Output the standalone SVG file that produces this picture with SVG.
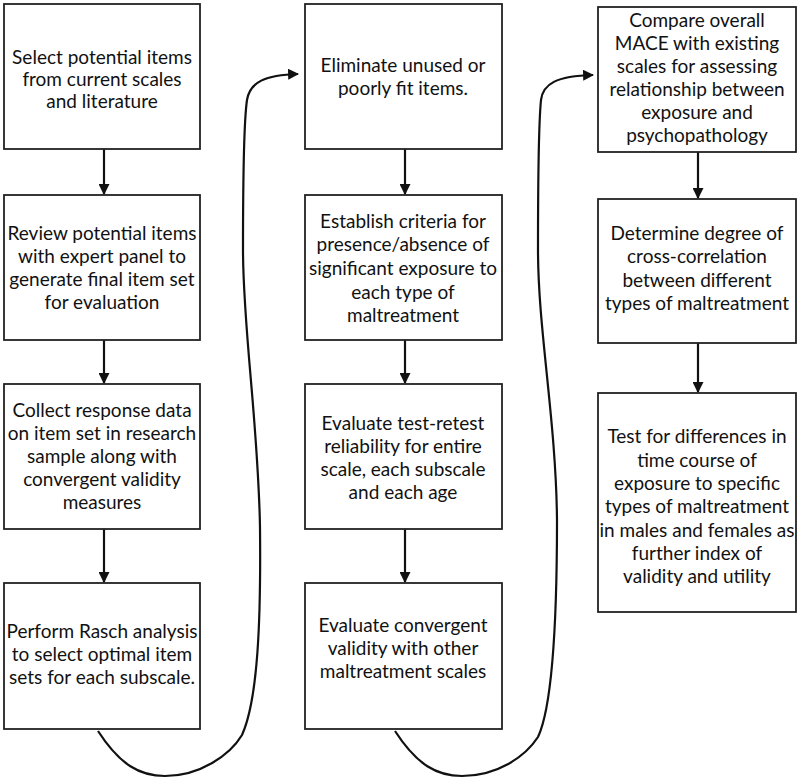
<svg xmlns="http://www.w3.org/2000/svg" width="800" height="781" viewBox="0 0 800 781">
<defs>
<style>
.box{fill:#fff;stroke:#222;stroke-width:1.8}
.t{font-family:Lato,"Open Sans","Liberation Sans",sans-serif;font-size:19px;fill:#111;text-anchor:middle}
.c{fill:none;stroke:#111;stroke-width:2.2}
</style>
<marker id="ah" viewBox="0 0 10 10" refX="9" refY="5" markerWidth="5" markerHeight="5" orient="auto" markerUnits="strokeWidth">
<path d="M0,0 L10,5 L0,10 z" fill="#111"/>
</marker>
</defs>
<rect width="800" height="781" fill="#fff"/>
<g id="connectors">
<line class="c" x1="104" y1="149" x2="104" y2="194" marker-end="url(#ah)"/>
<line class="c" x1="104" y1="340" x2="104" y2="383" marker-end="url(#ah)"/>
<line class="c" x1="104" y1="529" x2="104" y2="582" marker-end="url(#ah)"/>
<line class="c" x1="405" y1="149" x2="405" y2="194" marker-end="url(#ah)"/>
<line class="c" x1="405" y1="340" x2="405" y2="383" marker-end="url(#ah)"/>
<line class="c" x1="405" y1="529" x2="405" y2="582" marker-end="url(#ah)"/>
<line class="c" x1="698" y1="152" x2="698" y2="198" marker-end="url(#ah)"/>
<line class="c" x1="698" y1="343" x2="698" y2="392" marker-end="url(#ah)"/>
<path class="c" d="M98,731 C120,765 140,776 165,776 C200,776 230,755 242,735 C258,700 261,620 260,527 C258,420 243,330 243,250 C243,180 244,120 247,100 C250,82 265,75 298,74" marker-end="url(#ah)"/>
<path class="c" d="M395,731 C417,765 437,776 462,776 C497,776 525,757 538,737 C553,705 557,620 557,520 C556,420 538,330 538,250 C538,180 539,120 541,100 C543,84 556,76 593,75" marker-end="url(#ah)"/>
</g>
<g id="n1"><rect class="box" x="4" y="4" width="196" height="145"/>
<text class="t"><tspan x="102" y="64">Select potential items</tspan><tspan x="102" y="86">from current scales</tspan><tspan x="102" y="108">and literature</tspan></text></g>
<g id="n2"><rect class="box" x="4" y="195" width="196" height="145"/>
<text class="t"><tspan x="102" y="240">Review potential items</tspan><tspan x="102" y="263">with expert panel to</tspan><tspan x="102" y="286">generate final item set</tspan><tspan x="102" y="309">for evaluation</tspan></text></g>
<g id="n3"><rect class="box" x="4" y="384" width="196" height="145"/>
<text class="t"><tspan x="102" y="417">Collect response data</tspan><tspan x="102" y="440">on item set in research</tspan><tspan x="102" y="463">sample along with</tspan><tspan x="102" y="486">convergent validity</tspan><tspan x="102" y="509">measures</tspan></text></g>
<g id="n4"><rect class="box" x="4" y="583" width="196" height="146"/>
<text class="t"><tspan x="102" y="638">Perform Rasch analysis</tspan><tspan x="102" y="661">to select optimal item</tspan><tspan x="102" y="684">sets for each subscale.</tspan></text></g>
<g id="n5"><rect class="box" x="305" y="4" width="197" height="145"/>
<text class="t"><tspan x="403" y="72">Eliminate unused or</tspan><tspan x="403" y="95">poorly fit items.</tspan></text></g>
<g id="n6"><rect class="box" x="305" y="195" width="197" height="145"/>
<text class="t"><tspan x="403" y="228">Establish criteria for</tspan><tspan x="403" y="251">presence/absence of</tspan><tspan x="403" y="275">significant exposure to</tspan><tspan x="403" y="299">each type of</tspan><tspan x="403" y="322">maltreatment</tspan></text></g>
<g id="n7"><rect class="box" x="305" y="384" width="197" height="145"/>
<text class="t"><tspan x="403" y="430">Evaluate test-retest</tspan><tspan x="403" y="453">reliability for entire</tspan><tspan x="403" y="476">scale, each subscale</tspan><tspan x="403" y="499">and each age</tspan></text></g>
<g id="n8"><rect class="box" x="305" y="583" width="197" height="146"/>
<text class="t"><tspan x="403" y="632">Evaluate convergent</tspan><tspan x="403" y="655">validity with other</tspan><tspan x="403" y="678">maltreatment scales</tspan></text></g>
<g id="n9"><rect class="box" x="598" y="7" width="198" height="145"/>
<text class="t"><tspan x="697" y="27">Compare overall</tspan><tspan x="697" y="50">MACE with existing</tspan><tspan x="697" y="73">scales for assessing</tspan><tspan x="697" y="96">relationship between</tspan><tspan x="697" y="119">exposure and</tspan><tspan x="697" y="142">psychopathology</tspan></text></g>
<g id="n10"><rect class="box" x="598" y="199" width="198" height="144"/>
<text class="t"><tspan x="697" y="240">Determine degree of</tspan><tspan x="697" y="263">cross-correlation</tspan><tspan x="697" y="287">between different</tspan><tspan x="697" y="310">types of maltreatment</tspan></text></g>
<g id="n11"><rect class="box" x="598" y="393" width="198" height="219"/>
<text class="t"><tspan x="697" y="443">Test for differences in</tspan><tspan x="697" y="467">time course of</tspan><tspan x="697" y="490">exposure to specific</tspan><tspan x="697" y="513">types of maltreatment</tspan><tspan x="697" y="537">in males and females as</tspan><tspan x="697" y="560">further index of</tspan><tspan x="697" y="583">validity and utility</tspan></text></g>
</svg>
